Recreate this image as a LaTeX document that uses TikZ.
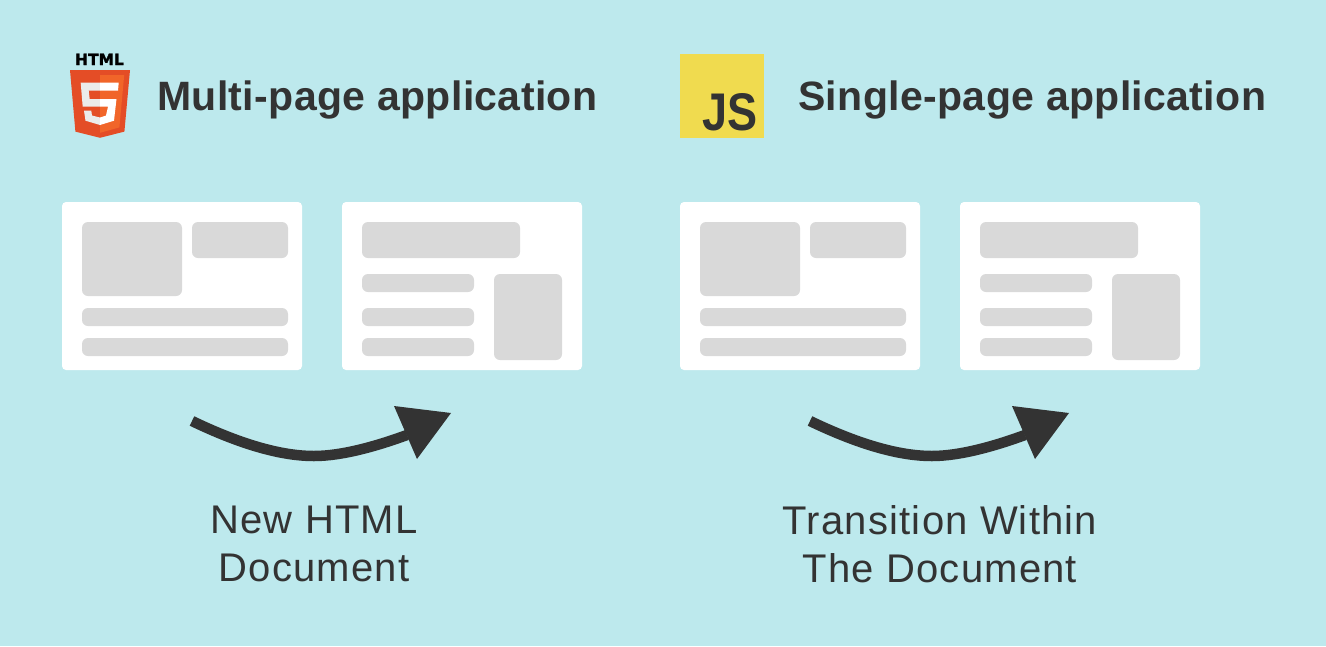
\documentclass[tikz,border=0pt]{standalone}
\usepackage{fontspec}
\setmainfont{Liberation Sans}
\newfontfamily\logofont[BoldFeatures={FakeBold=1.5}]{DejaVu Sans}
\newfontfamily\titlefont[LetterSpace=0.9]{Liberation Sans}
\newfontfamily\capfont[LetterSpace=3]{Liberation Sans}
\definecolor{bgc}{HTML}{BDE9ED}
\definecolor{ink}{HTML}{333333}
\definecolor{ph}{HTML}{D9D9D9}
\definecolor{jsy}{HTML}{F0DB4F}
\definecolor{hA}{HTML}{E44D26}
\definecolor{hB}{HTML}{F16529}
\definecolor{hC}{HTML}{EBEBEB}
\tikzset{
  x=1pt,y=-1pt,
  sheet/.style={fill=white,rounded corners=4pt},
  bar/.style={fill=ph,rounded corners=6pt},
  block/.style={fill=ph,rounded corners=6pt},
  titletext/.style={anchor=base west,inner sep=0pt,text=ink,font=\titlefont\fontsize{41}{48}\selectfont\bfseries},
  captext/.style={anchor=center,inner sep=0pt,text=ink,align=center,font=\capfont\fontsize{40}{48}\selectfont},
  shaft/.style={draw=ink,line width=10.5pt},
  headfill/.style={fill=ink},
  pics/pagea/.style={code={
    \fill[sheet] (0,0) rectangle (240,168);
    \fill[block] (20,20) rectangle (120,94);
    \fill[block] (130,20) rectangle (226,56);
    \fill[bar] (20,106) rectangle (226,124);
    \fill[bar] (20,136) rectangle (226,154);
  }},
  pics/pageb/.style={code={
    \fill[sheet] (0,0) rectangle (240,168);
    \fill[block] (20,20) rectangle (178,56);
    \fill[bar] (20,72) rectangle (132,90);
    \fill[bar] (20,106) rectangle (132,124);
    \fill[bar] (20,136) rectangle (132,154);
    \fill[block] (152,72) rectangle (220,158);
  }},
  pics/flow/.style={code={
    \coordinate (-s) at (0,0);
    \coordinate (-e) at (215,14);
    \draw[shaft] (-s) .. controls (50,24) and (90,35) .. (122,35) .. controls (150,35) and (185,25) .. (-e);
    \fill[headfill] (202,-15) -- (259,-8) -- (225,38) -- cycle;
  }},
}
\begin{document}
\begin{tikzpicture}
\useasboundingbox (0,0) rectangle (1326,646);
\fill[bgc] (0,0) rectangle (1326,646);
% HTML5 logo
\node[anchor=base,inner sep=0pt,font=\logofont\fontsize{15.5}{15.5}\selectfont\bfseries,text=black] (htmlword) at (99.5,65) {HTML};
\fill[hA] (70,70) -- (130,70) -- (124.4,131.6) -- (100,137.8) -- (75.4,131.6) -- cycle;
\fill[hB] (100,75) -- (124.2,75) -- (119.4,127.4) -- (100,132.8) -- cycle;
\fill[hC] (80.7,82.7) -- (100,82.7) -- (100,90.7) -- (88.7,90.7) -- (89.7,99) -- (100,99) -- (100,106.7) -- (82.7,106.7) -- cycle;
\fill[hC] (84,110.7) -- (91.3,110.7) -- (92,115.5) -- (100,117.5) -- (100,125) -- (85.5,120.7) -- cycle;
\fill[white] (100,82.7) -- (118.7,82.7) -- (118,90.7) -- (100,90.7) -- cycle;
\fill[white] (100,99) -- (116.5,99) -- (114,120.7) -- (100,125) -- (100,117.5) -- (106,115.5) -- (108,106.7) -- (100,106.7) -- cycle;
% JS logo
\fill[jsy] (680,54) rectangle (764,138);
\node[anchor=base east,inner sep=0pt,font=\fontsize{53}{53}\selectfont\bfseries,text=ink] (jsword) at (758,130) {\scalebox{.85}[1]{JS}};
% titles
\node[titletext] (titlea) at (157,110) {Multi-page application};
\node[titletext] (titleb) at (798,110) {Single-page application};
% pages
\pic (pa1) at (62,202) {pagea};
\pic (pb1) at (342,202) {pageb};
\pic (pa2) at (680,202) {pagea};
\pic (pb2) at (960,202) {pageb};
% arrows
\pic (fa) at (192,421) {flow};
\pic (fb) at (810,421) {flow};
% captions
\node[captext] (capa) at (314,544) {New HTML\\Document};
\node[captext] (capb) at (940,544) {Transition Within\\The Document};
\end{tikzpicture}
\end{document}
